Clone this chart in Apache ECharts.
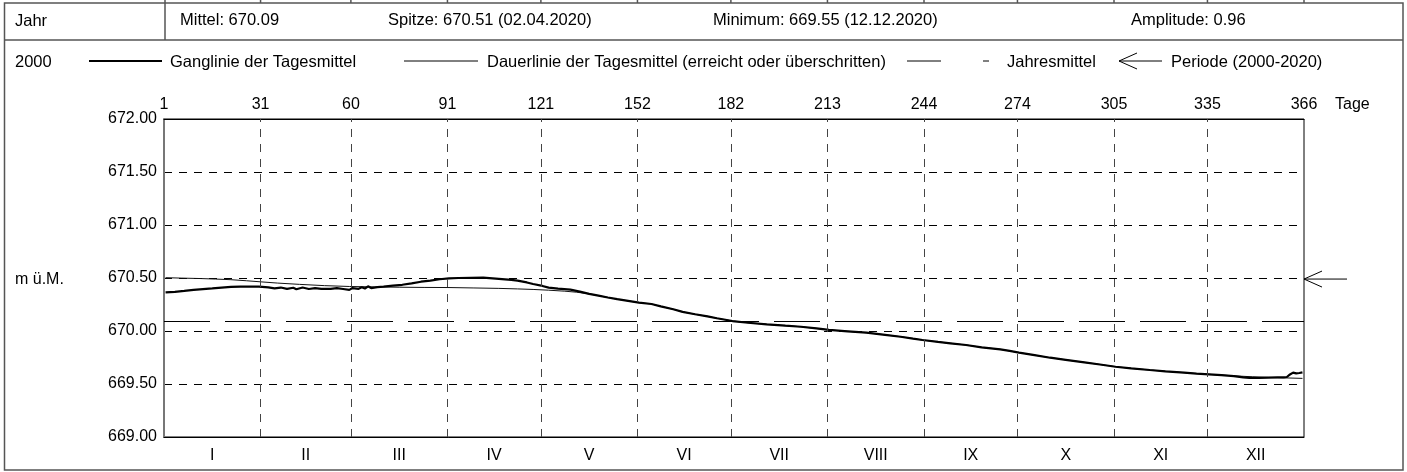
<!DOCTYPE html>
<html><head><meta charset="utf-8">
<script src="https://cdn.jsdelivr.net/npm/echarts@6/dist/echarts.min.js"></script>
<style>html,body{margin:0;padding:0;background:#fff}#c{width:1407px;height:472px}</style>
</head><body><div id="c"></div>
<script>
// ---- data ----
const dayTicks = [0, 31, 60, 91, 121, 152, 182, 213, 244, 274, 305, 335, 366];
const dayTickLabels = ['1', '31', '60', '91', '121', '152', '182', '213', '244', '274', '305', '335', '366'];
const monthCenters = [15.5, 45.5, 75.5, 106, 136.5, 167, 197.5, 228.5, 259, 289.5, 320, 350.5];
const monthLabels = ['I', 'II', 'III', 'IV', 'V', 'VI', 'VII', 'VIII', 'IX', 'X', 'XI', 'XII'];
const yMin = 669, yMax = 672, yStep = 0.5;
const jahresmittel = 670.09;
const periodeMittel = 670.49;
const headerTitle = 'Jahr';
const headerStats = ['Mittel: 670.09', 'Spitze: 670.51 (02.04.2020)', 'Minimum: 669.55 (12.12.2020)', 'Amplitude: 0.96'];
const yearLabel = '2000';
const legendLabels = ['Ganglinie der Tagesmittel', 'Dauerlinie der Tagesmittel (erreicht oder überschritten)', 'Jahresmittel', 'Periode (2000-2020)'];
const unitLabel = 'm ü.M.';
const dayUnit = 'Tage';

// [day, value]
const ganglinie = [
[1,670.365],[4,670.370],[7,670.378],[10,670.388],[13,670.395],[16,670.402],[19,670.410],[22,670.416],
[25,670.418],[28,670.420],[31,670.418],[34,670.412],[36,670.402],[38,670.410],[40,670.398],[42,670.408],
[43,670.394],[45,670.410],[47,670.396],[49,670.404],[51,670.398],[54,670.398],[56,670.404],[58,670.396],
[60,670.388],[61,670.405],[63,670.398],[64,670.412],[65,670.400],[66,670.422],[67,670.405],[69,670.414],
[71,670.418],[74,670.428],[77,670.436],[80,670.450],[83,670.465],[86,670.476],[89,670.488],[92,670.497],
[95,670.500],[99,670.502],[103,670.503],[106,670.497],[109,670.490],[112,670.482],[114,670.475],[117,670.458],
[119,670.443],[122,670.425],[124,670.409],[127,670.400],[131,670.390],[134,670.372],[137,670.350],[140,670.333],
[143,670.316],[146,670.300],[150,670.282],[153,670.267],[157,670.255],[160,670.232],[164,670.205],[167,670.180],
[171,670.158],[175,670.138],[178,670.120],[183,670.094],[188,670.078],[194,670.063],[200,670.050],[205,670.040],
[210,670.024],[214,670.010],[220,669.997],[226,669.984],[232,669.964],[237,669.946],[241,669.928],[244,669.915],
[249,669.897],[253,669.884],[258,669.868],[263,669.846],[269,669.827],[272,669.812],[275,669.796],[280,669.772],
[285,669.748],[290,669.728],[296,669.704],[301,669.684],[306,669.663],[311,669.648],[317,669.632],[322,669.620],
[328,669.607],[332,669.598],[336,669.591],[340,669.583],[344,669.575],[347,669.563],[349,669.557],[352,669.558],
[355,669.560],[358,669.562],[360,669.563],[361,669.566],[362,669.590],[363,669.607],[364,669.600],[365,669.604],
[366,669.610]
];
const dauerlinie = [
[1,670.503],[6,670.499],[12,670.495],[17,670.490],[22,670.484],[27,670.474],[31,670.465],[37,670.452],
[44,670.440],[52,670.428],[60,670.420],[68,670.416],[76,670.413],[84,670.411],[92,670.410],[100,670.406],
[108,670.402],[114,670.397],[119,670.392],[124,670.385],[129,670.376],[133,670.366],[137,670.350],[140,670.333],
[143,670.316],[146,670.300],[150,670.282],[153,670.267],[157,670.255],[160,670.232],[164,670.205],[167,670.180],
[171,670.158],[175,670.138],[178,670.120],[183,670.094],[188,670.078],[194,670.063],[200,670.050],[205,670.040],
[210,670.024],[214,670.010],[220,669.997],[226,669.984],[232,669.964],[237,669.946],[241,669.928],[244,669.915],
[249,669.897],[253,669.884],[258,669.868],[263,669.846],[269,669.827],[272,669.812],[275,669.796],[280,669.772],
[285,669.748],[290,669.728],[296,669.704],[301,669.684],[306,669.663],[311,669.648],[317,669.632],[322,669.620],
[328,669.607],[332,669.598],[336,669.591],[340,669.584],[344,669.577],[350,669.568],[355,669.562],[360,669.558],
[366,669.553]
];

// ---- chart ----
const FONT = "'Liberation Sans', Arial, sans-serif";
const chart = echarts.init(document.getElementById('c'), null, {renderer: 'canvas'});
const toXY = arr => arr.map(p => [p[0] - 0.5, p[1]]);

const option = {
  animation: false,
  backgroundColor: '#fff',
  textStyle: {fontFamily: FONT, color: '#000'},
  grid: {left: 164, top: 119, width: 1140, height: 318, show: true, borderColor: '#000', borderWidth: 1, backgroundColor: 'transparent', outerBoundsMode: 'none'},
  xAxis: [
    {type: 'value', position: 'top', min: 0, max: 366,
     axisLine: {show: true, lineStyle: {color: '#000', width: 1}},
     axisTick: {show: false}, splitLine: {show: false},
     axisLabel: {customValues: dayTicks, margin: 6, fontSize: 16, color: '#000', fontFamily: FONT,
       formatter: v => dayTickLabels[dayTicks.indexOf(v)]}},
    {type: 'value', position: 'bottom', min: 0, max: 366,
     axisLine: {show: true, lineStyle: {color: '#000', width: 1}},
     axisTick: {show: false}, splitLine: {show: false},
     axisLabel: {customValues: monthCenters, margin: 11, fontSize: 16, color: '#000', fontFamily: FONT,
       formatter: v => monthLabels[monthCenters.indexOf(v)]}}
  ],
  yAxis: {type: 'value', min: yMin, max: yMax, interval: yStep,
    axisLine: {show: true, lineStyle: {color: '#777', width: 2}},
    axisTick: {show: false},
    splitLine: {show: true, lineStyle: {color: '#000', width: 1, type: [8, 7]}},
    axisLabel: {margin: 7, fontSize: 16, color: '#000', fontFamily: FONT, formatter: v => v.toFixed(2)}},
  series: [
    {name: 'grid-v', type: 'line', xAxisIndex: 0, data: [], z: 1, silent: true,
     markLine: {silent: true, symbol: 'none', animation: false, label: {show: false},
       lineStyle: {color: '#444', width: 1, type: [8, 7]},
       data: dayTicks.slice(1, -1).map(d => ({xAxis: d}))}},
    {name: legendLabels[2], type: 'line', xAxisIndex: 0, data: [], z: 2, silent: true,
     markLine: {silent: true, symbol: 'none', animation: false, label: {show: false},
       lineStyle: {color: '#000', width: 1, type: [46, 15]},
       data: [{yAxis: jahresmittel}]}},
    {name: legendLabels[1], type: 'line', xAxisIndex: 0, data: toXY(dauerlinie), showSymbol: false, z: 3,
     lineStyle: {color: '#111', width: 1}},
    {name: legendLabels[0], type: 'line', xAxisIndex: 0, data: toXY(ganglinie), showSymbol: false, z: 4,
     lineStyle: {color: '#000', width: 2.2}}
  ]
};
chart.setOption(option);

// ---- frame, header, legend ----
const TS = 16.5;
const tStyle = (txt, size) => ({text: txt, font: size + 'px ' + FONT, fill: '#000', textVerticalAlign: 'middle'});
const g = [];
const FR = '#555';
const xl = chart.convertToPixel({xAxisIndex: 0}, 0);
g.push({type: 'rect', shape: {x: 4.5, y: 3, width: 1398.5, height: 467}, style: {fill: 'none', stroke: FR, lineWidth: 1.5}, silent: true});
g.push({type: 'line', shape: {x1: 4.5, y1: 40, x2: 1403, y2: 40}, style: {stroke: FR, lineWidth: 1.5}});
g.push({type: 'line', shape: {x1: xl + 1, y1: 0, x2: xl + 1, y2: 40}, style: {stroke: FR, lineWidth: 1.5}});
dayTicks.slice(1).forEach(d => {
  const x = chart.convertToPixel({xAxisIndex: 0}, d);
  g.push({type: 'line', shape: {x1: x, y1: 0, x2: x, y2: 3}, style: {stroke: FR, lineWidth: 1.5}});
});
g.push({type: 'text', x: 15, y: 21, style: tStyle(headerTitle, TS)});
const statX = [180, 388, 713, 1131];
headerStats.forEach((s, i) => g.push({type: 'text', x: statX[i], y: 20, style: tStyle(s, TS)}));
g.push({type: 'text', x: 15, y: 62, style: tStyle(yearLabel, TS)});
// legend symbols
g.push({type: 'line', shape: {x1: 89, y1: 61, x2: 162, y2: 61}, style: {stroke: '#000', lineWidth: 2}});
g.push({type: 'line', shape: {x1: 404, y1: 61, x2: 478, y2: 61}, style: {stroke: '#000', lineWidth: 1}});
g.push({type: 'line', shape: {x1: 907, y1: 61, x2: 941, y2: 61}, style: {stroke: '#000', lineWidth: 1}});
g.push({type: 'line', shape: {x1: 983, y1: 61, x2: 989, y2: 61}, style: {stroke: '#000', lineWidth: 1}});
g.push({type: 'polyline', shape: {points: [[1137, 53], [1119, 61], [1137, 69]]}, style: {stroke: '#000', fill: 'none', lineWidth: 1}});
g.push({type: 'line', shape: {x1: 1119, y1: 61, x2: 1162, y2: 61}, style: {stroke: '#000', lineWidth: 1}});
const legX = [170, 487, 1007, 1171];
legendLabels.forEach((s, i) => g.push({type: 'text', x: legX[i], y: 62, style: tStyle(s, TS)}));
// axis unit labels
g.push({type: 'text', x: 1335, y: 105, style: tStyle(dayUnit, 16)});
const yUnit = chart.convertToPixel({yAxisIndex: 0}, 670.5);
g.push({type: 'text', x: 15, y: yUnit + 2, style: tStyle(unitLabel, 16)});
// period mean arrow at right side
const xr = chart.convertToPixel({xAxisIndex: 0}, 366);
const yp = chart.convertToPixel({yAxisIndex: 0}, periodeMittel);
g.push({type: 'line', shape: {x1: xr, y1: yp, x2: xr + 43, y2: yp}, style: {stroke: '#000', lineWidth: 1}});
g.push({type: 'polyline', shape: {points: [[xr + 18, yp - 8], [xr, yp], [xr + 18, yp + 8]]}, style: {stroke: '#000', fill: 'none', lineWidth: 1}});
chart.setOption({graphic: {elements: g}});
</script></body></html>
